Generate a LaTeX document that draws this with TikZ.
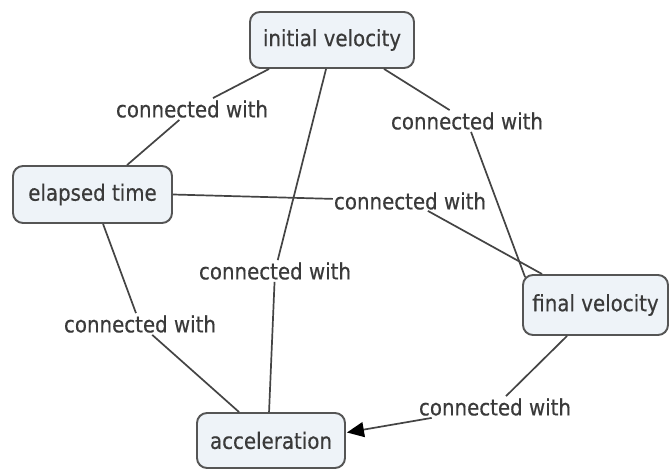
\documentclass[tikz,border=0pt]{standalone}
\usepackage{fontspec}
\setmainfont{DejaVu Sans}[FakeStretch=0.88,FakeBold=0.4]
\usetikzlibrary{calc,arrows.meta}
\definecolor{boxfill}{HTML}{EEF3F8}
\definecolor{boxline}{HTML}{555555}
\definecolor{linkc}{HTML}{444444}
\definecolor{txt}{HTML}{3A3A3A}
\begin{document}
\begin{tikzpicture}[x=1pt,y=-1pt,
  font=\fontsize{22.5}{26}\selectfont,
  concept/.style={draw=boxline, line width=1.9pt, fill=boxfill, rounded corners=10pt, text=txt, inner sep=0pt},
  link/.style={text=txt, inner sep=2pt},
  conn/.style={draw=linkc, line width=1.7pt}]
\useasboundingbox[fill=white] (0,0) rectangle (670,470);
\node[concept, minimum width=164pt, minimum height=56pt] (iv) at (332,40) {initial velocity};
\node[concept, minimum width=159pt, minimum height=57pt] (et) at (92.5,194.5) {elapsed time};
\node[concept, minimum width=145pt, minimum height=60pt] (fv) at (595.5,305) {final velocity};
\node[concept, minimum width=148pt, minimum height=55pt] (ac) at (271,440.5) {acceleration};

\node[link] (l1) at (192,109) {connected with};
\node[link] (l2) at (467,121) {connected with};
\node[link, inner sep=1pt] (l3) at (410,201) {connected with};
\node[link] (l4) at (275,271) {connected with};
\node[link] (l5) at (140,324) {connected with};
\node[link] (l6) at (495,407) {connected with};

\draw[conn] ($(iv.south west)+(20,0)$) -- (l1);
\draw[conn] (l1) -- ($(et.north west)+(115,0)$);
\draw[conn] ($(iv.south west)+(135,0)$) -- (l2);
\draw[conn] (l2) -- ($(fv.north west)+(3,3)$);
\draw[conn] (et.east) -- (l3);
\draw[conn] (l3) -- ($(fv.north west)+(20,0)$);
\draw[conn] ($(iv.south west)+(77,0)$) -- (l4);
\draw[conn] (l4) -- ($(ac.north west)+(73,0)$);
\draw[conn] ($(et.south west)+(91,0)$) -- (l5);
\draw[conn] (l5) -- ($(ac.north west)+(43,0)$);
\draw[conn] ($(fv.south west)+(45,0)$) -- (l6);
\draw[conn, -{Triangle[length=17pt,width=15pt,fill=black,color=black]}] (l6) -- ($(ac.east)+(1,-8)$);
\end{tikzpicture}
\end{document}
